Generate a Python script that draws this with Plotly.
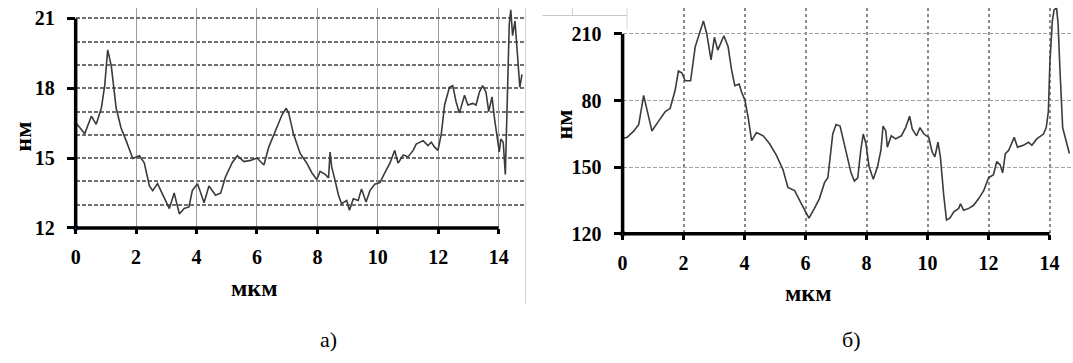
import plotly.graph_objects as go

W, H = 1073, 363

# ---- profile а): position (мкм) and height (нм) ----
pos_a = [0.02, 0.3, 0.52, 0.68, 0.85, 0.96, 1.06, 1.18, 1.34, 1.5,
         1.67, 1.89, 2.11, 2.27, 2.44, 2.55, 2.71, 2.88, 3.1, 3.26,
         3.43, 3.59, 3.75, 3.86, 4.03, 4.14, 4.25, 4.41, 4.63, 4.8,
         4.96, 5.18, 5.35, 5.57, 5.79, 6.0, 6.23, 6.39, 6.61, 6.83,
         6.97, 7.05, 7.21, 7.43, 7.65, 7.82, 7.98, 8.09, 8.26, 8.37,
         8.42, 8.47, 8.59, 8.7, 8.8, 8.97, 9.06, 9.19, 9.35, 9.46,
         9.61, 9.74, 9.9, 10.07, 10.23, 10.4, 10.56, 10.67, 10.84, 11.0,
         11.17, 11.27, 11.5, 11.66, 11.77, 11.88, 11.99, 12.1, 12.21, 12.37,
         12.48, 12.59, 12.7, 12.87, 12.98, 13.14, 13.25, 13.36, 13.47, 13.58,
         13.67, 13.78, 13.86, 13.93, 14.02, 14.07, 14.15, 14.22, 14.3, 14.35,
         14.4, 14.46, 14.54, 14.62, 14.7, 14.77]
height_a = [16.5, 16.05, 16.8, 16.45, 17.15, 18.1, 19.65, 18.95, 17.15, 16.3,
            15.75, 14.98, 15.1, 14.8, 13.8, 13.6, 13.9, 13.4, 12.83, 13.5,
            12.6, 12.83, 12.9, 13.6, 13.9, 13.5, 13.08, 13.8, 13.4, 13.5,
            14.2, 14.8, 15.1, 14.85, 14.9, 15.0, 14.7, 15.47, 16.17, 16.86,
            17.14, 16.93, 16.03, 15.2, 14.78, 14.36, 14.08, 14.43, 14.3, 14.15,
            15.26, 14.64, 14.01, 13.39, 13.04, 13.18, 12.76, 13.25, 13.18, 13.67,
            13.11, 13.6, 13.88, 13.95, 14.36, 14.78, 15.33, 14.78, 15.13, 15.05,
            15.33, 15.6, 15.75, 15.54, 15.68, 15.47, 15.33, 16.03, 17.28, 18.04,
            18.11, 17.42, 16.93, 17.7, 17.28, 17.35, 17.28, 17.83, 18.11, 17.83,
            17.0, 17.63, 16.72, 16.03, 15.26, 15.82, 15.68, 14.29, 18.8, 20.75,
            21.37, 20.26, 20.89, 19.5, 18.04, 18.6]

# ---- profile б) ----
pos_b = [0.02, 0.15, 0.37, 0.53, 0.69, 0.85, 0.96, 1.18, 1.4, 1.56,
         1.72, 1.83, 1.94, 2.05, 2.23, 2.38, 2.52, 2.65, 2.76, 2.9,
         3.01, 3.12, 3.32, 3.46, 3.57, 3.68, 3.82, 3.9, 4.01, 4.12,
         4.23, 4.39, 4.61, 4.82, 5.04, 5.26, 5.42, 5.64, 5.86, 6.11,
         6.29, 6.45, 6.62, 6.73, 6.89, 7.0, 7.13, 7.32, 7.49, 7.6,
         7.71, 7.81, 7.89, 7.98, 8.08, 8.22, 8.36, 8.47, 8.54, 8.63,
         8.68, 8.81, 8.95, 9.14, 9.28, 9.41, 9.5, 9.64, 9.75, 9.88,
         10.04, 10.15, 10.24, 10.34, 10.42, 10.53, 10.62, 10.73, 10.86, 11.02,
         11.08, 11.18, 11.35, 11.51, 11.67, 11.84, 12.0, 12.16, 12.27, 12.38,
         12.46, 12.55, 12.66, 12.84, 12.95, 13.14, 13.31, 13.42, 13.58, 13.8,
         13.89, 13.96, 14.01, 14.09, 14.15, 14.23, 14.28, 14.34, 14.43, 14.54,
         14.65]
height_b = [163.0, 163.4, 166.3, 169.2, 182.3, 173.6, 166.3, 170.7, 175.0, 176.5,
            184.5, 193.3, 192.5, 188.9, 188.9, 204.2, 210.0, 215.8, 210.0, 198.3,
            208.5, 202.7, 209.2, 204.2, 194.0, 186.7, 187.4, 183.8, 180.2, 172.1,
            161.9, 165.6, 164.1, 160.5, 155.4, 148.8, 140.8, 139.4, 133.5, 127.0,
            131.4, 135.7, 143.0, 145.2, 164.9, 169.2, 168.5, 157.6, 147.4, 143.7,
            145.2, 157.6, 164.9, 160.5, 150.3, 144.5, 150.3, 157.6, 168.5, 166.3,
            159.0, 164.1, 162.7, 164.1, 167.8, 172.9, 167.1, 164.1, 167.8, 164.9,
            163.4, 156.8, 154.6, 161.2, 154.6, 137.2, 126.2, 127.0, 129.9, 131.4,
            133.5, 130.6, 131.4, 132.8, 135.7, 139.4, 145.2, 146.6, 152.5, 151.0,
            147.4, 156.1, 157.6, 163.4, 159.0, 159.8, 161.2, 159.8, 162.7, 164.9,
            167.8, 175.0, 196.9, 215.8, 220.9, 221.7, 214.4, 194.0, 167.8, 161.9,
            156.1]

x_ticks = [0, 2, 4, 6, 8, 10, 12, 14]
ya_ticks = [12, 15, 18, 21]
yb_ticks = [120, 150, 180, 210]
yb_ticktext = ["120", "150", "80", "210"]

x_label = "мкм"
y_label = "нм"
panel_labels = ["а)", "б)"]

SERIF = "Liberation Serif"
tick_font = dict(family=SERIF, size=20, color="black", weight="bold")


def px_x(px):
    return px / W


def px_y(py):
    return 1 - py / H


# panel geometry (pixels) and axis ranges
xa_range = [0, (523 - 71) / 30.357]
ya_range = [12, 12 + 227 / 24.0]
xb_range = [0, (1073 - 620.5) / 30.64]
yb_range = [120, 120 + 233 / 2.2889]

fig = go.Figure()

line_style = dict(color="#3b3b3b", width=1.6)
fig.add_trace(go.Scatter(x=pos_a, y=height_a, mode="lines", line=line_style,
                         xaxis="x", yaxis="y", showlegend=False))
fig.add_trace(go.Scatter(x=pos_b, y=height_b, mode="lines", line=line_style,
                         xaxis="x2", yaxis="y2", showlegend=False))

# origin markers
fig.add_trace(go.Scatter(x=[x_ticks[0]], y=[ya_ticks[0]], mode="markers",
                         marker=dict(color="#2e7fd6", size=6), cliponaxis=False,
                         xaxis="x", yaxis="y", showlegend=False))
fig.add_trace(go.Scatter(x=[x_ticks[0]], y=[yb_ticks[0]], mode="markers",
                         marker=dict(color="#2e7fd6", size=6), cliponaxis=False,
                         xaxis="x2", yaxis="y2", showlegend=False))

common_x = dict(tickvals=x_ticks, ticks="outside", ticklen=5, tickwidth=3,
                tickcolor="black", tickfont=tick_font, showline=False,
                zeroline=False, ticklabelstandoff=6)
common_y = dict(ticks="outside", ticklen=8, tickwidth=2.5, tickcolor="black",
                tickfont=tick_font, showline=False, zeroline=False,
                ticklabelstandoff=8)

fig.update_layout(
    width=W, height=H, autosize=False,
    margin=dict(l=0, r=0, t=0, b=0),
    paper_bgcolor="white", plot_bgcolor="rgba(0,0,0,0)",
    xaxis=dict(domain=[px_x(71), px_x(523)], range=xa_range, anchor="y",
               showgrid=True, gridcolor="#9c9c9c", gridwidth=1.3, **common_x),
    yaxis=dict(domain=[px_y(235), px_y(8)], range=ya_range, anchor="x",
               tickvals=ya_ticks, showgrid=True, gridcolor="#6f6f6f",
               gridwidth=1.5, griddash="4px,2px",
               minor=dict(dtick=1, tick0=12, showgrid=True, gridcolor="#6f6f6f",
                          gridwidth=1.5, griddash="4px,2px", ticks=""),
               **common_y),
    xaxis2=dict(domain=[px_x(620.5), 1.0], range=xb_range, anchor="y2",
                showgrid=True, gridcolor="#8a8a8a", gridwidth=1.5, griddash="dot",
                **common_x),
    yaxis2=dict(domain=[px_y(241), px_y(8)], range=yb_range, anchor="x2",
                tickvals=yb_ticks, ticktext=yb_ticktext, showgrid=True,
                gridcolor="#a0a0a0", gridwidth=1.3, griddash="4px,2px",
                **common_y),
)


def frac(v, rng):
    return (v - rng[0]) / (rng[1] - rng[0])


shapes = []
# heavy axis lines, ending at the last tick value
for xn, yn, xrng, yrng, yt in (("x", "y", xa_range, ya_range, ya_ticks),
                               ("x2", "y2", xb_range, yb_range, yb_ticks)):
    shapes.append(dict(type="line", xref=f"{xn} domain", yref=f"{yn} domain",
                       x0=0, x1=frac(x_ticks[-1], xrng), y0=0, y1=0,
                       line=dict(color="black", width=3.5)))
    shapes.append(dict(type="line", xref=f"{xn} domain", yref=f"{yn} domain",
                       x0=0, x1=0, y0=0, y1=frac(yt[-1], yrng),
                       line=dict(color="black", width=3.5)))

# faint frame remnants
shapes.append(dict(type="line", xref="paper", yref="paper",
                   x0=px_x(523), x1=px_x(523), y0=px_y(8), y1=px_y(313),
                   line=dict(color="#d2d2d2", width=1)))
shapes.append(dict(type="line", xref="paper", yref="paper",
                   x0=px_x(540), x1=px_x(625), y0=px_y(16), y1=px_y(16),
                   line=dict(color="#c8c8c8", width=1)))
shapes.append(dict(type="line", xref="paper", yref="paper",
                   x0=px_x(570), x1=px_x(570), y0=px_y(8), y1=px_y(16),
                   line=dict(color="#d0d0d0", width=1)))
shapes.append(dict(type="line", xref="paper", yref="paper",
                   x0=px_x(625), x1=px_x(625), y0=px_y(8), y1=px_y(30),
                   line=dict(color="#d8d8d8", width=1)))
fig.update_layout(shapes=shapes)

label_font = dict(family=SERIF, size=24, color="black", weight="bold")
panel_font = dict(family=SERIF, size=22, color="black")
annots = [
    dict(text=y_label, x=px_x(18), y=px_y(141), textangle=-90, font=label_font),
    dict(text=x_label, x=px_x(251), y=px_y(297), font=label_font),
    dict(text=y_label, x=px_x(562), y=px_y(128), textangle=-90, font=label_font),
    dict(text=x_label, x=px_x(807), y=px_y(302), font=label_font),
    dict(text=panel_labels[0], x=px_x(325), y=px_y(350), font=panel_font),
    dict(text=panel_labels[1], x=px_x(850), y=px_y(350), font=panel_font),
]
for a in annots:
    a.update(xref="paper", yref="paper", showarrow=False,
             xanchor="center", yanchor="middle")
fig.update_layout(annotations=annots)

fig.write_html("out.html")
